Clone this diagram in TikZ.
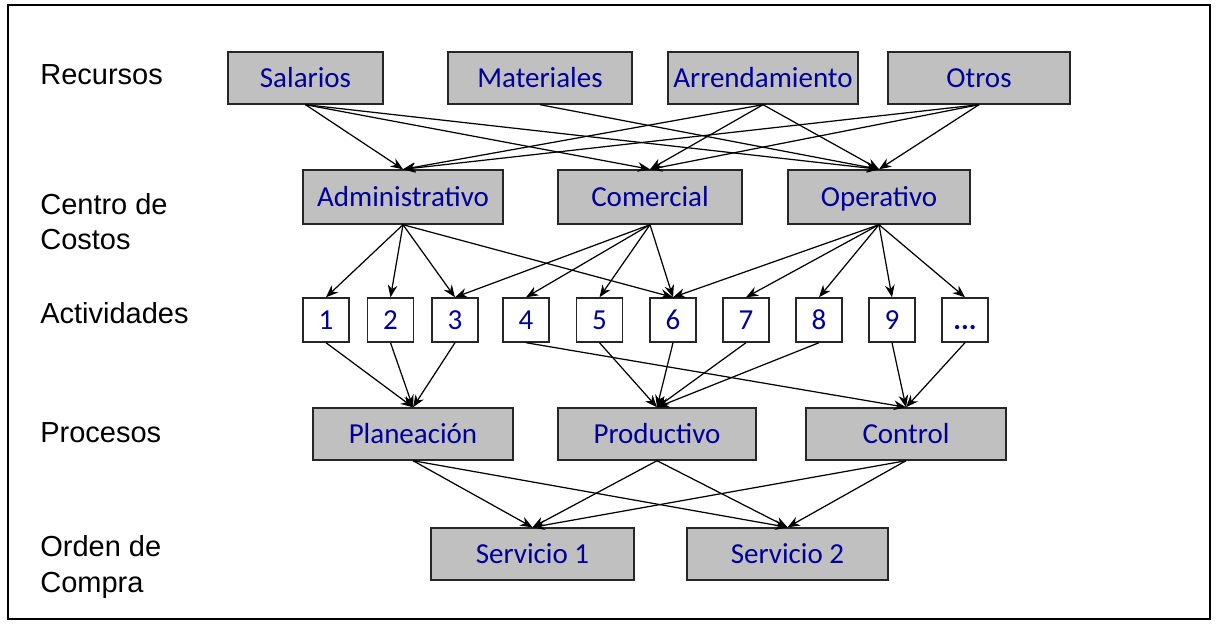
\documentclass[tikz,border=0pt]{standalone}
\usepackage{fontspec}
\setmainfont{Liberation Sans}
\newfontfamily\calibri{Carlito}
\usetikzlibrary{arrows.meta}
\definecolor{boxgray}{RGB}{192,192,192}
\definecolor{boxblue}{RGB}{0,0,153}
\tikzset{
  box/.style={draw=black!85, fill=boxgray, line width=0.8pt, inner sep=0pt,
    minimum height=1.04cm, text height=10.6pt, text depth=0pt,
    text=boxblue, font=\calibri\fontsize{16.5}{20}\selectfont},
  act/.style={box, fill=white, minimum width=0.92cm, minimum height=0.88cm},
  level/.style={anchor=west, inner sep=0pt, align=left,
    font=\fontsize{16.5}{20}\selectfont},
  flow/.style={-{Stealth[length=7pt,width=5.5pt]}, line width=0.7pt}
}

\begin{document}
\begin{tikzpicture}[x=0.02cm, y=-0.02cm]
\useasboundingbox (0,0) rectangle (1217,624);
\draw[line width=1pt] (8,5) rectangle (1210,619);

% level names
\node[level] (lrec) at (40,75) {Recursos};
\node[level] (lcen) at (40,222) {Centro de\\Costos};
\node[level] (lact) at (40,313) {Actividades};
\node[level] (lpro) at (40,433) {Procesos};
\node[level] (lord) at (40,567) {Orden de\\Compra};

% recursos
\node[box, minimum width=3.1cm] (sal) at (305.5,78) {Salarios};
\node[box, minimum width=3.68cm] (mat) at (540,78) {Materiales};
\node[box, minimum width=3.8cm] (arr) at (763,78) {Arrendamiento};
\node[box, minimum width=3.64cm] (otr) at (979,78) {Otros};

% centros de costos
\node[box, minimum width=4cm, minimum height=1.08cm] (adm) at (403,197) {Administrativo};
\node[box, minimum width=3.68cm, minimum height=1.08cm] (com) at (650,197) {Comercial};
\node[box, minimum width=3.64cm, minimum height=1.08cm] (ope) at (879,197) {Operativo};

% actividades
\foreach \n/\x/\t in {1/326/1, 2/390.5/2, 3/455/3, 4/526/4, 5/599.5/5,
    6/673/6, 7/746/7, 8/819/8, 9/892/9, 10/965/\textbf{...}}
  \node[act] (a\n) at (\x,320) {\t};

% procesos
\node[box, minimum width=4cm] (pla) at (413,434) {Planeación};
\node[box, minimum width=3.96cm] (pro) at (657,434) {Productivo};
\node[box, minimum width=4cm] (con) at (906,434) {Control};

% ordenes
\node[box, minimum width=4.06cm] (s1) at (532.5,554) {Servicio 1};
\node[box, minimum width=4.02cm] (s2) at (787.5,554) {Servicio 2};

\foreach \from/\to in {sal/adm, sal/com, sal/ope, mat/ope,
    arr/adm, arr/com, arr/ope, otr/adm, otr/com, otr/ope,
    adm/a1, adm/a2, adm/a3, adm/a6, com/a3, com/a4, com/a5, com/a6,
    ope/a6, ope/a7, ope/a8, ope/a9, ope/a10,
    a1/pla, a2/pla, a3/pla, a4/con, a5/pro, a6/pro, a7/pro, a8/pro,
    a9/con, a10/con,
    pla/s1, pla/s2, pro/s1, pro/s2, con/s1, con/s2}
  \draw[flow] (\from.south) -- (\to.north);
\end{tikzpicture}
\end{document}
